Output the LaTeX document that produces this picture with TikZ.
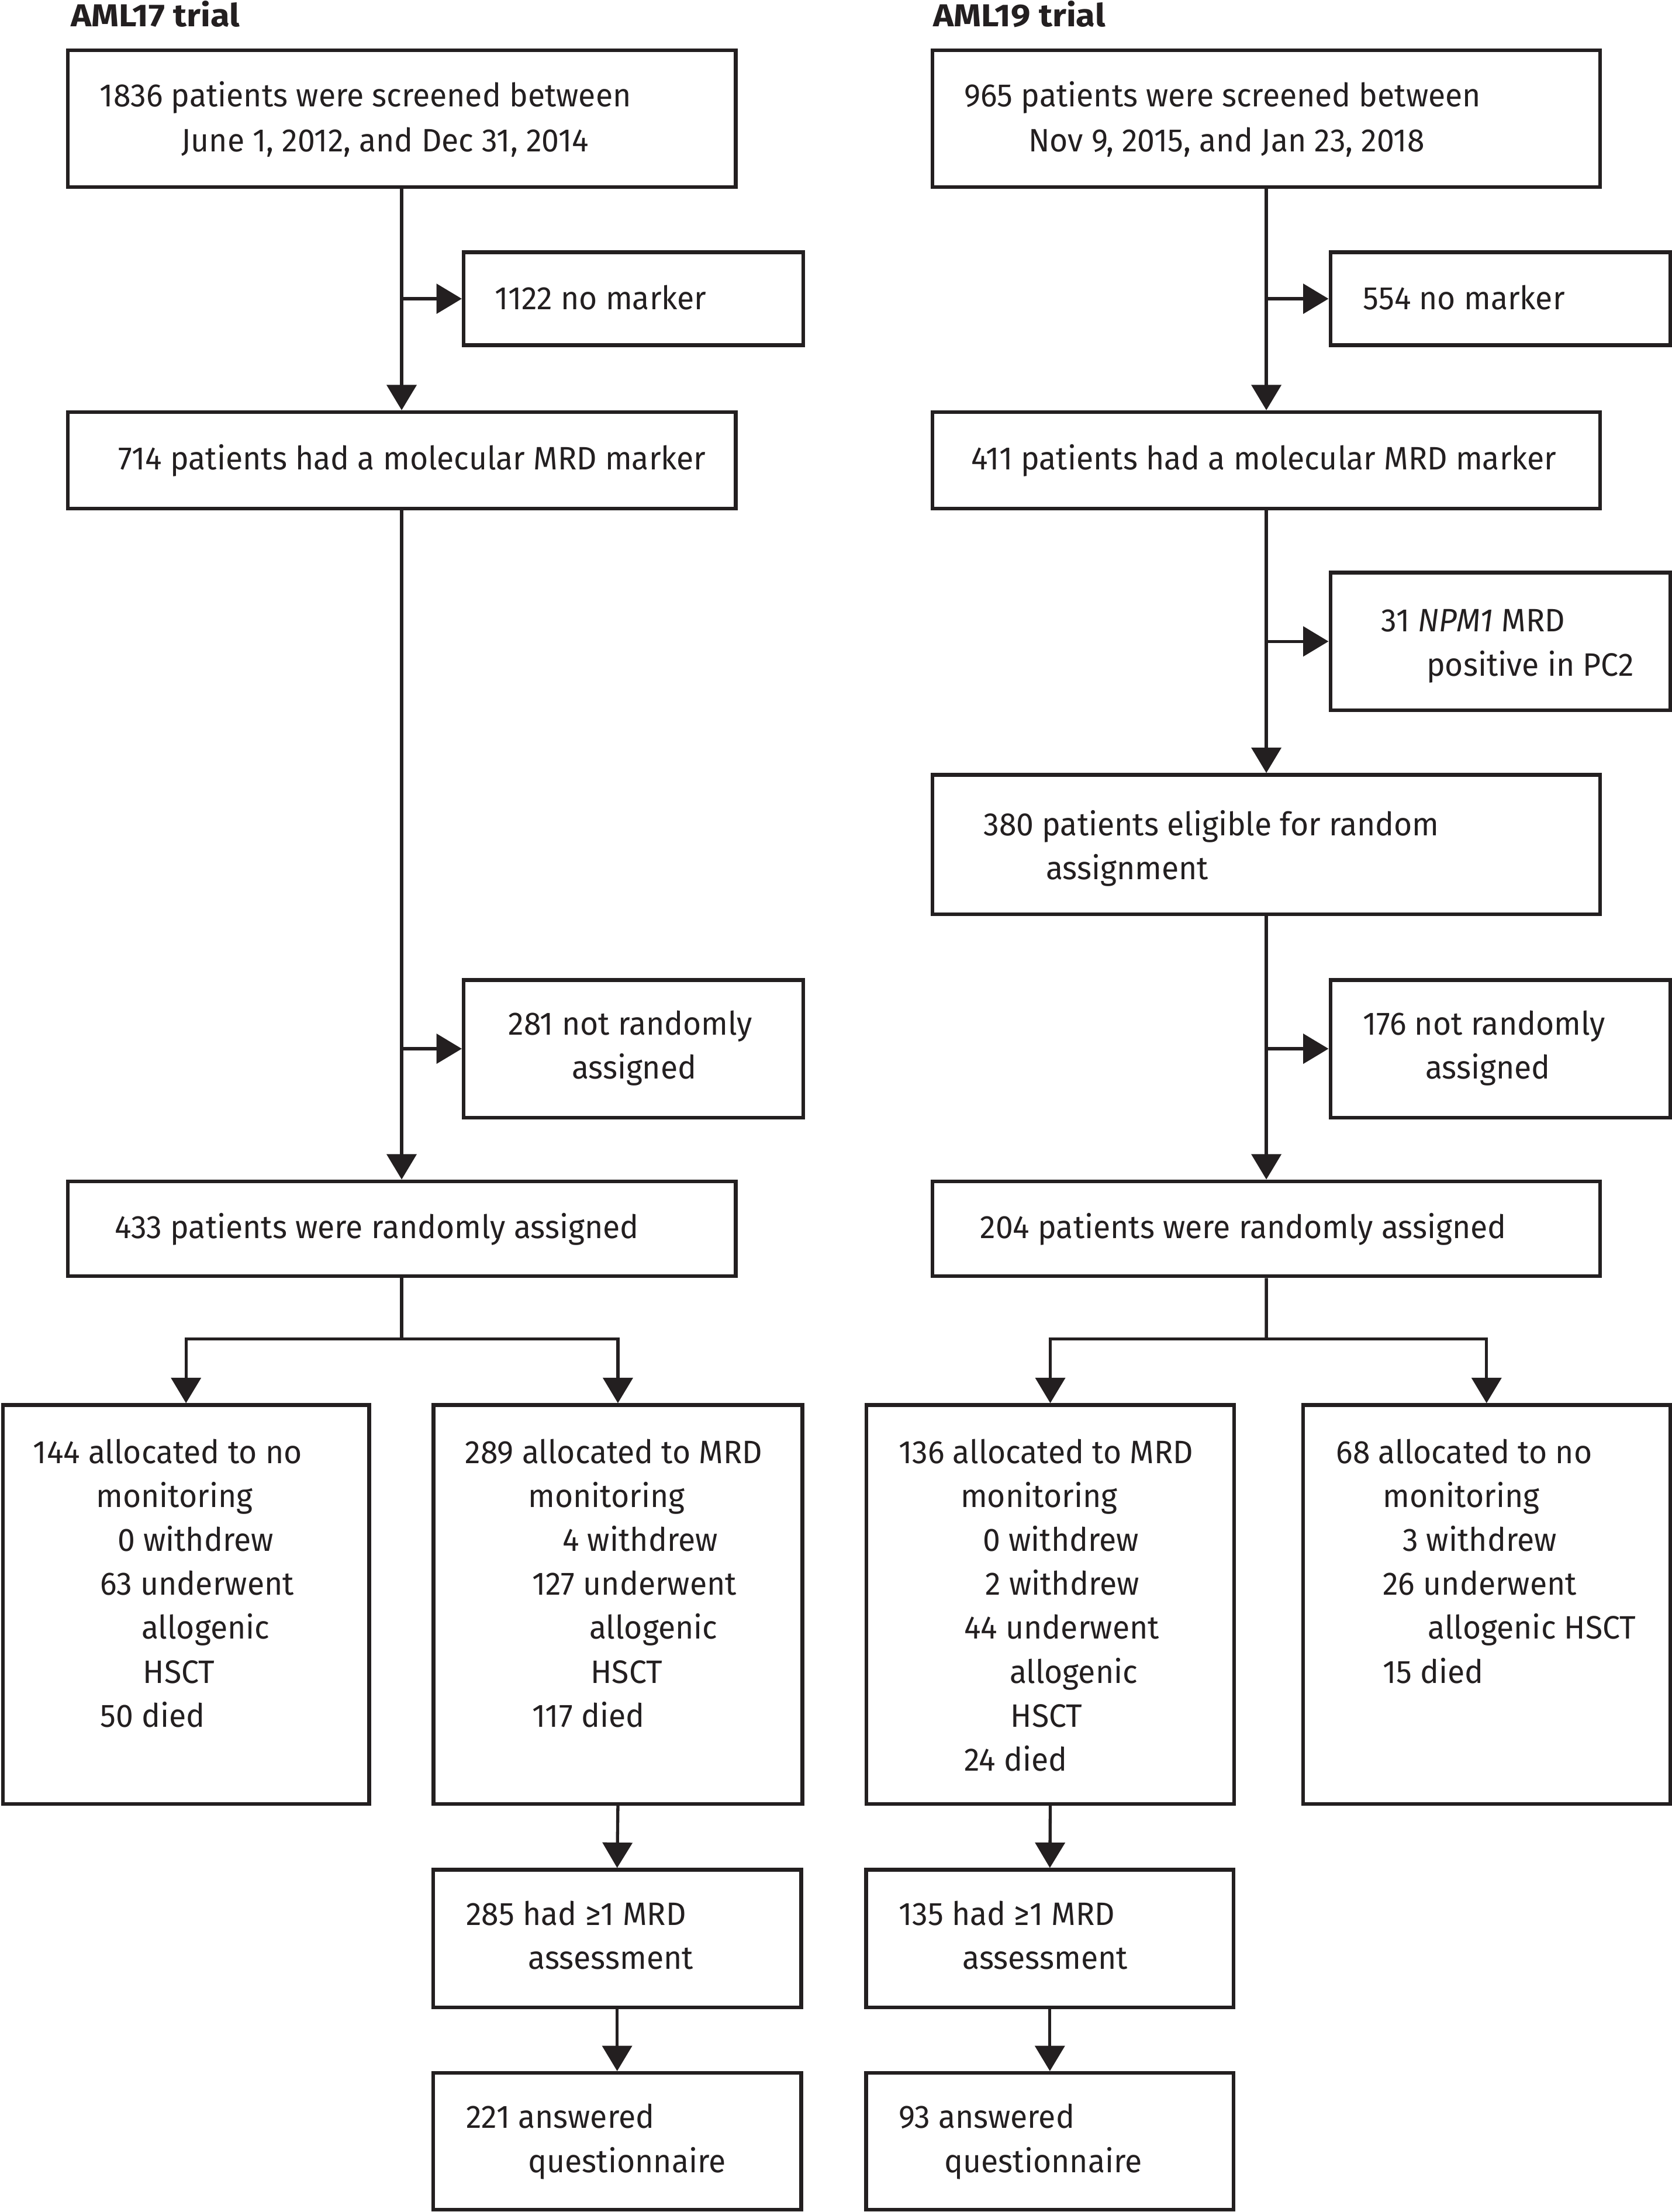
\documentclass[tikz,border=0pt]{standalone}
\usepackage{fontspec}
\setmainfont{Fira Sans}[FakeStretch=0.965]
\newfontfamily\ttlfont{Fira Sans}[FakeStretch=1.1]
\usetikzlibrary{arrows.meta}
\definecolor{ink}{RGB}{35,31,32}
\newcommand\fbx[5]{\node[box, minimum width={(#4)-(#2)}, minimum height={(#5)-(#3)}] (#1) at ({((#2)+(#4))/2},{((#3)+(#5))/2}) {};}
\begin{document}
\begin{tikzpicture}[x=1pt,y=-1pt,
  box/.style={draw=ink, line width=2.6pt, inner sep=0pt, fill=none},
  conn/.style={draw=ink, line width=2.2pt, -{Triangle[length=18pt,width=21pt]}},
  plain/.style={draw=ink, line width=2.2pt},
  txt/.style={anchor=base west, inner sep=0pt, text=ink, font=\fontsize{23}{31}\selectfont},
  ttl/.style={anchor=base west, inner sep=0pt, text=ink, font=\ttlfont\fontsize{22.5}{27}\selectfont\bfseries}]
\useasboundingbox (0,0) rectangle (1186,1569.7);
% ---------------- AML17 ----------------
\node[ttl] (t17) at (50,19) {AML17 trial};
\fbx{a1}{48}{35.7}{522}{132.7}
\node[txt] (a1x) at (70.7,75.7) {1836 patients were screened between};
\node[txt] (a1y) at (128.6,107.5) {June 1, 2012, and Dec 31, 2014};
\fbx{a1p}{329}{179}{570}{245}
\node[txt] (a1px) at (351,219.6) {1122 no marker};
\fbx{a2}{48}{292.4}{522}{361}
\node[txt] (a2x) at (84,333.5) {714 patients had a molecular MRD marker};
\fbx{a3}{329}{695.4}{570}{793}
\node[txt] (a3x) at (360.5,734.5) {281 not randomly};
\node[txt] (a3y) at (405.5,765.5) {assigned};
\fbx{a4}{48}{838.3}{522}{905.7}
\node[txt] (a4x) at (81.3,879) {433 patients were randomly assigned};
\fbx{a5}{2}{997}{262}{1280}
\node[txt] (a5a) at (23.4,1038.3) {144 allocated to no};
\node[txt] (a5b) at (68,1069.5) {monitoring};
\node[txt] (a5c) at (83.2,1100.7) {0 withdrew};
\node[txt] (a5d) at (71,1131.9) {63 underwent};
\node[txt] (a5e) at (100.3,1163.1) {allogenic};
\node[txt] (a5f) at (101.3,1194.3) {HSCT};
\node[txt] (a5g) at (71,1225.5) {50 died};
\fbx{a6}{307.6}{997}{569.3}{1280}
\node[txt] (a6a) at (329.9,1038.3) {289 allocated to MRD};
\node[txt] (a6b) at (374.5,1069.5) {monitoring};
\node[txt] (a6c) at (399,1100.7) {4 withdrew};
\node[txt] (a6d) at (377.5,1131.9) {127 underwent};
\node[txt] (a6e) at (418,1163.1) {allogenic};
\node[txt] (a6f) at (419,1194.3) {HSCT};
\node[txt] (a6g) at (377.5,1225.5) {117 died};
\fbx{a7}{307.3}{1326.8}{568.5}{1424.5}
\node[txt] (a7a) at (330.6,1366.3) {285 had ≥1 MRD};
\node[txt] (a7b) at (374.6,1397.3) {assessment};
\fbx{a8}{307.3}{1471}{568.5}{1568}
\node[txt] (a8a) at (330.6,1510) {221 answered};
\node[txt] (a8b) at (374.6,1541.5) {questionnaire};
% ---------------- AML19 ----------------
\node[ttl] (t19) at (662,19) {AML19 trial};
\fbx{b1}{661.7}{35.7}{1135.4}{132.7}
\node[txt] (b1x) at (684,75.7) {965 patients were screened between};
\node[txt] (b1y) at (729.5,107.5) {Nov 9, 2015, and Jan 23, 2018};
\fbx{b1p}{944}{179}{1185}{245}
\node[txt] (b1px) at (967,219.6) {554 no marker};
\fbx{b2}{661.7}{292.4}{1135.4}{361}
\node[txt] (b2x) at (689,333.5) {411 patients had a molecular MRD marker};
\fbx{b3}{944}{406.3}{1185}{504}
\node[txt] (b3x) at (980,448.4) {31 \textit{NPM1} MRD};
\node[txt] (b3y) at (1012,479.6) {positive in PC2};
\fbx{b4}{661.7}{549.8}{1135.4}{648.7}
\node[txt] (b4x) at (697.7,592.8) {380 patients eligible for random};
\node[txt] (b4y) at (742,624) {assignment};
\fbx{b5}{944}{695.4}{1185}{793}
\node[txt] (b5x) at (967,734.5) {176 not randomly};
\node[txt] (b5y) at (1011.2,765.5) {assigned};
\fbx{b6}{661.7}{838.3}{1135.4}{905.7}
\node[txt] (b6x) at (695.3,879) {204 patients were randomly assigned};
\fbx{b7}{614.8}{997}{875.7}{1280}
\node[txt] (b7a) at (637.5,1038.3) {136 allocated to MRD};
\node[txt] (b7b) at (681.4,1069.5) {monitoring};
\node[txt] (b7c) at (697.2,1100.7) {0 withdrew};
\node[txt] (b7d) at (699,1131.9) {2 withdrew};
\node[txt] (b7e) at (684,1163.1) {44 underwent};
\node[txt] (b7f) at (716.2,1194.3) {allogenic};
\node[txt] (b7g) at (717,1225.5) {HSCT};
\node[txt] (b7h) at (684,1256.7) {24 died};
\fbx{b8}{924.6}{997}{1185}{1280}
\node[txt] (b8a) at (948,1038.3) {68 allocated to no};
\node[txt] (b8b) at (981,1069.5) {monitoring};
\node[txt] (b8c) at (995,1100.7) {3 withdrew};
\node[txt] (b8d) at (981,1131.9) {26 underwent};
\node[txt] (b8e) at (1013,1163.1) {allogenic HSCT};
\node[txt] (b8f) at (981,1194.3) {15 died};
\fbx{b9}{614.6}{1326.8}{875.3}{1424.5}
\node[txt] (b9a) at (637.5,1366.3) {135 had ≥1 MRD};
\node[txt] (b9b) at (682.8,1397.3) {assessment};
\fbx{b10}{614.6}{1471}{875.3}{1568}
\node[txt] (b10a) at (637.5,1510) {93 answered};
\node[txt] (b10b) at (670,1541.5) {questionnaire};
% ---------------- connectors ----------------
\coordinate (jl) at (285,950);
\coordinate (jr) at (898.55,950);
\draw[conn] (a1.south) -- (a2.north);
\draw[conn] (a1.south |- a1p.west) -- (a1p.west);
\draw[conn] (a2.south) -- (a4.north);
\draw[conn] (a2.south |- a3.west) -- (a3.west);
\draw[plain] (a4.south) -- (jl);
\draw[conn] (jl) -| (a5.north);
\draw[conn] (jl) -| (a6.north);
\draw[conn] (a6.south) -- (a7.north);
\draw[conn] (a7.south) -- (a8.north);
\draw[conn] (b1.south) -- (b2.north);
\draw[conn] (b1.south |- b1p.west) -- (b1p.west);
\draw[conn] (b2.south) -- (b4.north);
\draw[conn] (b2.south |- b3.west) -- (b3.west);
\draw[conn] (b4.south) -- (b6.north);
\draw[conn] (b4.south |- b5.west) -- (b5.west);
\draw[plain] (b6.south) -- (jr);
\draw[conn] (jr) -| (b7.north);
\draw[conn] (jr) -| (b8.north);
\draw[conn] (b7.south) -- (b9.north);
\draw[conn] (b9.south) -- (b10.north);
\end{tikzpicture}
\end{document}
